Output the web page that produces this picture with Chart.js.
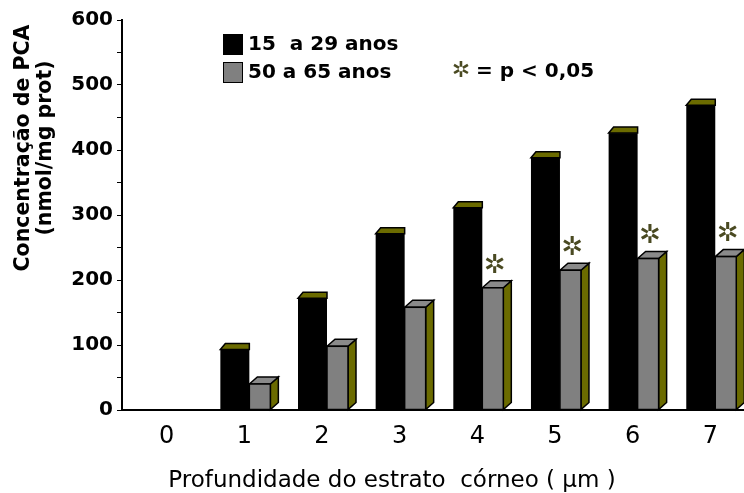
<!DOCTYPE html>
<html>
<head>
<meta charset="utf-8">
<script src="https://cdn.jsdelivr.net/npm/chart.js@4"></script>
<style>
  html, body { margin: 0; padding: 0; background: #fff; }
  #wrap { width: 744px; height: 493px; position: relative; }
</style>
</head>
<body>
<div id="wrap"><canvas id="chart"></canvas></div>
<script>
// dados
const profundidade = [0, 1, 2, 3, 4, 5, 6, 7];
const jovens = [null, 93, 172, 271, 311, 388, 426, 469];   // 15 a 29 anos
const idosos = [null, 40, 98, 158, 188, 215, 233, 236];    // 50 a 65 anos
const significativo = [false, false, false, false, true, true, true, true];
const legendas = ['15  a 29 anos', '50 a 65 anos'];

const OLIVA = '#6b6b00';
const CINZA = '#808080';
const FONTE = '"DejaVu Sans", Verdana, sans-serif';

// desenha as barras "3D" a partir da geometria dos elementos do Chart.js
const barras3d = {
    id: 'barras3d',
    afterDatasetsDraw(chart) {
        const ctx = chart.ctx;
        ctx.save();
        ctx.lineJoin = 'miter';
        // série 1: barras pretas
        chart.getDatasetMeta(0).data.forEach((el, i) => {
            if (jovens[i] == null) return;
            const x0 = el.x - el.width / 2, x1 = el.x + el.width / 2;
            const yT = el.y, yB = el.base;
            const dx = 5, dy = 6;
            ctx.fillStyle = '#000';
            ctx.fillRect(x0, yT, x1 - x0, yB - yT);
            ctx.beginPath();
            ctx.moveTo(x0, yT);
            ctx.lineTo(x0 + dx, yT - dy);
            ctx.lineTo(x1, yT - dy);
            ctx.lineTo(x1, yT);
            ctx.closePath();
            ctx.fillStyle = OLIVA;
            ctx.fill();
            ctx.strokeStyle = '#000';
            ctx.lineWidth = 1.5;
            ctx.stroke();
        });
        // série 2: barras cinzentas com lateral oliva
        chart.getDatasetMeta(1).data.forEach((el, i) => {
            if (idosos[i] == null) return;
            const x0 = el.x - el.width / 2, x2 = el.x + el.width / 2;
            const dx = 8, dy = 7;
            const x1 = x2 - dx;
            const yT = el.y, yB = el.base;
            ctx.strokeStyle = '#000';
            ctx.lineWidth = 1.5;
            // lateral
            ctx.beginPath();
            ctx.moveTo(x1, yT);
            ctx.lineTo(x2, yT - dy);
            ctx.lineTo(x2, yB - dy);
            ctx.lineTo(x1, yB);
            ctx.closePath();
            ctx.fillStyle = OLIVA;
            ctx.fill();
            ctx.stroke();
            // topo
            ctx.beginPath();
            ctx.moveTo(x0, yT);
            ctx.lineTo(x0 + dx, yT - dy);
            ctx.lineTo(x2, yT - dy);
            ctx.lineTo(x1, yT);
            ctx.closePath();
            ctx.fillStyle = '#8a8a8a';
            ctx.fill();
            ctx.stroke();
            // frente
            ctx.fillStyle = CINZA;
            ctx.fillRect(x0, yT, x1 - x0, yB - yT);
            ctx.strokeRect(x0, yT, x1 - x0, yB - yT);
            // asterisco de significância
            if (significativo[i]) {
                ctx.fillStyle = '#4a4a22';
                ctx.font = 'bold 26px ' + FONTE;
                ctx.textAlign = 'center';
                ctx.textBaseline = 'middle';
                ctx.fillText('\u2732', (x0 + x1) / 2 + 2, yT - 22);
            }
        });
        ctx.restore();
    }
};

// títulos e legenda
const textos = {
    id: 'textos',
    afterDraw(chart) {
        const ctx = chart.ctx;
        ctx.save();
        ctx.fillStyle = '#000';
        ctx.textBaseline = 'middle';
        // legenda
        ctx.strokeStyle = '#000';
        ctx.lineWidth = 1;
        ctx.fillRect(223, 34, 20, 21);
        ctx.fillStyle = CINZA;
        ctx.fillRect(223, 62, 20, 21);
        ctx.strokeRect(223.5, 62.5, 19, 20);
        ctx.fillStyle = '#000';
        ctx.font = 'bold 20px ' + FONTE;
        ctx.textAlign = 'left';
        ctx.fillText(legendas[0], 248, 45);
        ctx.fillText(legendas[1], 248, 73);
        ctx.fillStyle = '#4a4a22';
        ctx.font = 'bold 22px ' + FONTE;
        ctx.textAlign = 'center';
        ctx.fillText('\u2732', 461, 71);
        ctx.fillStyle = '#000';
        ctx.font = 'bold 20px ' + FONTE;
        ctx.textAlign = 'left';
        ctx.fillText('= p < 0,05', 476, 72);
        // título eixo x
        ctx.font = '23px ' + FONTE;
        ctx.textAlign = 'center';
        ctx.fillText('Profundidade do estrato  córneo ( µm )', 392, 481);
        // título eixo y
        ctx.translate(35, 148);
        ctx.rotate(-Math.PI / 2);
        ctx.font = 'bold 20.5px ' + FONTE;
        ctx.fillText('Concentração de PCA', 0, -11);
        ctx.fillText('(nmol/mg prot)', 0, 11);
        ctx.restore();
    }
};

new Chart(document.getElementById('chart'), {
    type: 'bar',
    data: {
        datasets: [
            {
                label: legendas[0],
                data: profundidade.map((p, i) => ({ x: p, y: jovens[i] })),
                backgroundColor: 'rgba(0,0,0,0)',
                borderWidth: 0,
                barThickness: 29
            },
            {
                label: legendas[1],
                data: profundidade.map((p, i) => ({ x: p, y: idosos[i] })),
                backgroundColor: 'rgba(0,0,0,0)',
                borderWidth: 0,
                barThickness: 29
            }
        ]
    },
    options: {
        responsive: true,
        maintainAspectRatio: false,
        animation: false,
        layout: { padding: { top: 20, right: 0, left: 0, bottom: 0 } },
        plugins: {
            legend: { display: false },
            tooltip: { enabled: false }
        },
        scales: {
            x: {
                type: 'linear',
                offset: false,
                min: -0.64,
                max: 7.37,
                afterBuildTicks: s => { s.ticks = profundidade.map(v => ({ value: v })); },
                afterFit: s => { s.height = 83; },
                grid: { display: false, drawTicks: false },
                border: { color: '#000', width: 2 },
                ticks: {
                    color: '#000',
                    font: { family: FONTE, size: 24 },
                    padding: 12,
                    labelOffset: -5,
                    maxRotation: 0,
                    autoSkip: false,
                    callback: v => String(v)
                }
            },
            y: {
                min: 0,
                max: 600,
                afterFit: s => { s.width = 122; },
                grid: { drawOnChartArea: false, drawTicks: true, tickLength: 5, color: '#000' },
                border: { color: '#000', width: 2 },
                ticks: {
                    stepSize: 50,
                    color: '#000',
                    font: { family: FONTE, size: 20, weight: 'bold' },
                    padding: 4,
                    autoSkip: false,
                    callback: v => (v % 100 === 0 ? String(v) : '')
                }
            }
        }
    },
    plugins: [barras3d, textos]
});
</script>
</body>
</html>
